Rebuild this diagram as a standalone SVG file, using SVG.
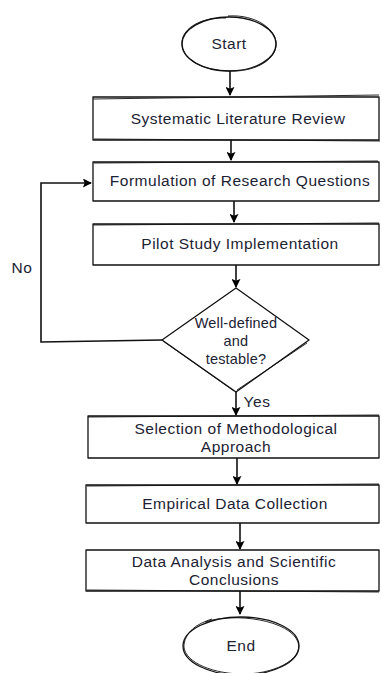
<svg xmlns="http://www.w3.org/2000/svg" width="382" height="673" viewBox="0 0 382 673">
<defs>
<marker id="ah" viewBox="0 0 10 10" refX="9" refY="5" markerWidth="9" markerHeight="9" orient="auto" markerUnits="userSpaceOnUse">
<path d="M0,0 L10,5 L0,10 L2,5 Z" fill="#000"/>
</marker>
<style>
.s{fill:#fff;stroke:#111;stroke-width:1.3;stroke-linejoin:round}
.o{fill:none;stroke:#111;stroke-width:0.9}
.c{fill:none;stroke:#111;stroke-width:1.6}
.t{font-family:"Liberation Sans","Noto Sans",sans-serif;font-size:15.5px;fill:#1c2233;text-anchor:middle;letter-spacing:0.5px}
.d{font-size:14.5px;letter-spacing:0.2px}
</style>
</defs>
<rect width="382" height="673" fill="#fff"/>
<g id="connectors">
<path class="c" d="M230,71 L230,95" marker-end="url(#ah)"/>
<path class="c" d="M231,140 L231,160" marker-end="url(#ah)"/>
<path class="c" d="M234,201 L234,222" marker-end="url(#ah)"/>
<path class="c" d="M236,265 L236,287" marker-end="url(#ah)"/>
<path class="c" d="M162,340 L41,342 L41,183 L91,183" marker-end="url(#ah)"/>
<path class="c" d="M236,392 L236,415" marker-end="url(#ah)"/>
<path class="c" d="M237,458 L237,484" marker-end="url(#ah)"/>
<path class="c" d="M240,523 L240,549" marker-end="url(#ah)"/>
<path class="c" d="M240,591 L240,614" marker-end="url(#ah)"/>
<text class="t" x="22" y="273">No</text>
<text class="t" x="257" y="407">Yes</text>
</g>
<g id="start">
<ellipse class="s" cx="229" cy="44" rx="47" ry="27"/>
<path class="o" d="M228,16 C256,14 278,30 276,46 C274,62 252,72 230,71 C204,71 181,60 182,42 C183,27 203,17 226,18"/>
<text class="t" x="229" y="49">Start</text>
</g>
<g id="n1">
<rect class="s" x="93" y="97" width="286" height="43"/>
<path class="o" d="M93,99 L379,95 M94,139 L380,141"/>
<text class="t" x="238" y="124">Systematic Literature Review</text>
</g>
<g id="n2">
<rect class="s" x="93" y="162" width="286" height="39"/>
<path class="o" d="M94,163 L378,161"/>
<text class="t" x="240" y="186">Formulation of Research Questions</text>
</g>
<g id="n3">
<rect class="s" x="93" y="224" width="286" height="41"/>
<path class="o" d="M93,225 L379,223"/>
<text class="t" x="240" y="249">Pilot Study Implementation</text>
</g>
<g id="d1">
<polygon class="s" points="236,288 309,340 236,392 162,340"/>
<path class="o" d="M163,341 L234,391 M307,343 L237,390"/>
<text class="t d" x="236" y="328">Well-defined</text>
<text class="t d" x="236" y="346">and</text>
<text class="t d" x="236" y="364">testable?</text>
</g>
<g id="n4">
<rect class="s" x="88" y="416" width="291" height="42"/>
<path class="o" d="M88,417 L379,415"/>
<text class="t" x="236" y="434">Selection of Methodological</text>
<text class="t" x="236" y="452">Approach</text>
</g>
<g id="n5">
<rect class="s" x="86" y="485" width="293" height="38"/>
<path class="o" d="M87,486 L379,484"/>
<text class="t" x="235" y="509">Empirical Data Collection</text>
</g>
<g id="n6">
<rect class="s" x="86" y="550" width="293" height="41"/>
<path class="o" d="M87,590 L379,592"/>
<text class="t" x="234" y="567">Data Analysis and Scientific</text>
<text class="t" x="234" y="585">Conclusions</text>
</g>
<g id="end">
<ellipse class="s" cx="241" cy="646" rx="58" ry="29"/>
<path class="o" d="M205,622 C235,612 290,620 298,642 C304,660 272,675 240,674 C208,673 182,660 184,644 C186,632 196,624 212,619"/>
<text class="t" x="241" y="651">End</text>
</g>
</svg>
